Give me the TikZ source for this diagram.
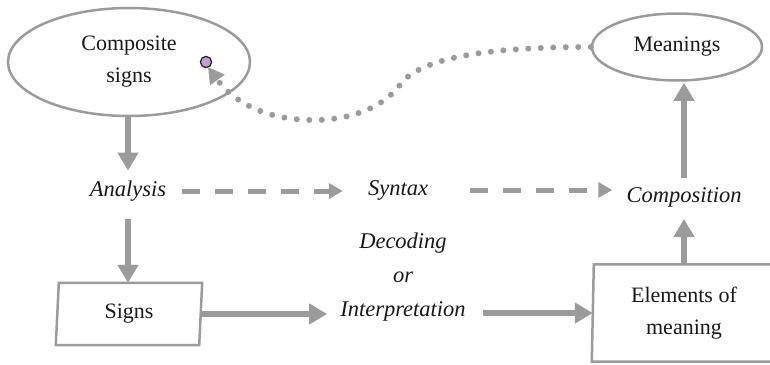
\documentclass[tikz,border=0pt]{standalone}
\usepackage{fontspec}
\setmainfont{Liberation Serif}
\usetikzlibrary{arrows.meta,shapes.geometric}
\definecolor{lg}{RGB}{155,155,155}
\definecolor{dotfill}{RGB}{196,158,210}
\definecolor{dotedge}{RGB}{40,40,40}
\begin{document}
\begin{tikzpicture}[x=1pt,y=-1pt,
  txt/.style={font=\fontsize{22}{32}\selectfont, inner sep=0pt, align=center, text=black!90},
  itxt/.style={txt, font=\fontsize{22.5}{34}\selectfont\itshape},
  oval/.style={ellipse, draw=lg, line width=2.5pt, txt},
  box/.style={rectangle, txt},
  boxline/.style={draw=lg, line width=2.5pt},
  thick arrow/.style={draw=lg, line width=6pt, -{Triangle[length=18pt,width=20pt]}},
  dash arrow/.style={draw=lg, line width=5pt, dash pattern=on 18pt off 15pt, -{Triangle[length=14pt,width=15pt]}},
  dot arrow/.style={draw=lg, line width=6pt, line cap=round, dash pattern=on 0pt off 12.5pt, -{Triangle[length=16pt,width=17pt]}}
]
\useasboundingbox (0,0) rectangle (770,364);

\node[oval, minimum width=242pt, minimum height=108pt] (cs) at (129,62) {Composite\\signs};
\node[oval, minimum width=170pt, minimum height=67pt] (mn) at (677,47) {Meanings};
\node[itxt] (an) at (128,191) {Analysis};
\node[itxt] (sx) at (398,190) {Syntax};
\node[itxt] (cp) at (684,197) {Composition};
\node[itxt] (dc) at (403,277) {Decoding\\or\\Interpretation};
\node[box, minimum width=143pt, minimum height=62pt] (sg) at (129,314) {Signs};
\node[box, minimum width=182pt, minimum height=97pt] (el) at (684,313) {Elements of\\meaning};
\coordinate (tip) at (208,67);

% slightly skewed box outlines
\draw[boxline] ([xshift=1.5pt]sg.north west) -- ([xshift=1.5pt]sg.north east)
  -- ([xshift=-1.5pt]sg.south east) -- ([xshift=-1.5pt]sg.south west) -- cycle;
\draw[boxline] ([xshift=1pt]el.north west) -- ([xshift=1pt]el.north east)
  -- ([xshift=-1pt]el.south east) -- ([xshift=-1pt]el.south west) -- cycle;

\fill[dotfill, draw=dotedge, line width=1.3pt] (206,62) circle (5.6pt);

\draw[thick arrow, shorten >=10pt] (an.north |- cs.south) -- (an.north);
\draw[thick arrow, shorten <=18pt] (an.south) -- (an.south |- sg.north);
\draw[thick arrow, shorten >=13pt] (sg.east) -- (sg.east -| dc.west);
\draw[thick arrow, shorten <=17pt] (dc.east |- el.west) -- (el.west);
\draw[thick arrow, shorten >=12pt] (el.north) -- (el.north |- cp.south);
\draw[thick arrow, shorten <=9pt, shorten >=1pt] (el.north |- cp.north) -- (el.north |- mn.south);

\draw[dash arrow, shorten <=16pt, shorten >=25pt] (an.east) -- (an.east -| sx.west);
\draw[dash arrow, shorten <=42pt, shorten >=14pt] (sx.east) -- (sx.east -| cp.west);

\draw[dot arrow] (mn.west) .. controls (490,47) and (425,57) .. (402,82)
  .. controls (382,112) and (340,121) .. (310,120)
  .. controls (262,119) and (232,100) .. (tip);
\end{tikzpicture}
\end{document}
